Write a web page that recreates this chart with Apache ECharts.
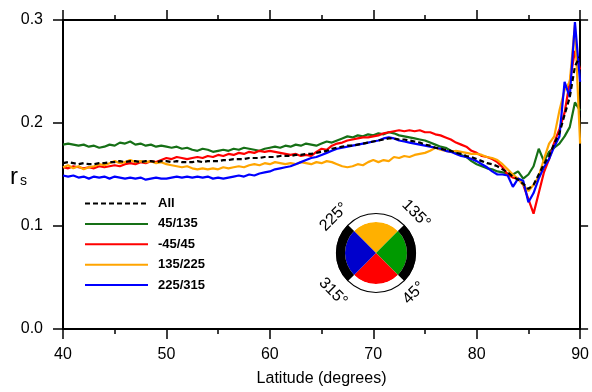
<!DOCTYPE html>
<html>
<head>
<meta charset="utf-8">
<script src="https://cdn.jsdelivr.net/npm/echarts@6/dist/echarts.min.js"></script>
<style>
  html, body { margin: 0; padding: 0; background: #fff; }
  #chart { width: 592px; height: 392px; }
</style>
</head>
<body>
<div id="chart"></div>
<script>
// latitude (degrees), 0.5 deg steps
const lats = [
  40, 40.5, 41, 41.5, 42, 42.5, 43, 43.5, 44, 44.5, 45, 45.5, 46, 46.5, 47, 47.5, 48, 48.5, 49, 49.5, 50,
  50.5, 51, 51.5, 52, 52.5, 53, 53.5, 54, 54.5, 55, 55.5, 56, 56.5, 57, 57.5, 58, 58.5, 59, 59.5, 60,
  60.5, 61, 61.5, 62, 62.5, 63, 63.5, 64, 64.5, 65, 65.5, 66, 66.5, 67, 67.5, 68, 68.5, 69, 69.5, 70,
  70.5, 71, 71.5, 72, 72.5, 73, 73.5, 74, 74.5, 75, 75.5, 76, 76.5, 77, 77.5, 78, 78.5, 79, 79.5, 80,
  80.5, 81, 81.5, 82, 82.5, 83, 83.5, 84, 84.5, 85, 85.5, 86, 86.5, 87, 87.5, 88, 88.5, 89, 89.5, 90
]

// r_s, all directions
const rsAll = [
  0.161, 0.162, 0.161, 0.160, 0.161, 0.160, 0.160, 0.161, 0.161, 0.162, 0.162, 0.163, 0.162, 0.163, 0.163, 0.162, 0.163, 0.163, 0.162, 0.163, 0.163,
  0.162, 0.163, 0.162, 0.162, 0.162, 0.163, 0.162, 0.163, 0.163, 0.163, 0.164, 0.164, 0.165, 0.165, 0.165, 0.166, 0.166, 0.166, 0.167, 0.167,
  0.167, 0.168, 0.168, 0.168, 0.169, 0.169, 0.170, 0.170, 0.171, 0.172, 0.173, 0.175, 0.176, 0.177, 0.178, 0.178, 0.179, 0.180, 0.181, 0.182,
  0.183, 0.184, 0.185, 0.185, 0.184, 0.184, 0.183, 0.182, 0.181, 0.179, 0.178, 0.176, 0.175, 0.174, 0.173, 0.171, 0.170, 0.168, 0.167, 0.165,
  0.163, 0.161, 0.160, 0.158, 0.155, 0.152, 0.148, 0.145, 0.141, 0.136, 0.140, 0.150, 0.160, 0.168, 0.180, 0.190, 0.208, 0.225, 0.255, 0.265
]
const rs45_135 = [
  0.179, 0.180, 0.179, 0.178, 0.179, 0.177, 0.178, 0.176, 0.177, 0.179, 0.178, 0.181, 0.180, 0.182, 0.179, 0.180, 0.178, 0.179, 0.177, 0.178, 0.177,
  0.176, 0.177, 0.175, 0.176, 0.174, 0.173, 0.175, 0.174, 0.172, 0.173, 0.174, 0.173, 0.175, 0.174, 0.176, 0.175, 0.174, 0.173, 0.175, 0.176,
  0.177, 0.176, 0.178, 0.177, 0.179, 0.178, 0.180, 0.179, 0.178, 0.180, 0.182, 0.181, 0.183, 0.185, 0.187, 0.186, 0.188, 0.187, 0.189, 0.188,
  0.190, 0.189, 0.191, 0.190, 0.188, 0.187, 0.186, 0.185, 0.184, 0.183, 0.181, 0.179, 0.177, 0.176, 0.173, 0.171, 0.169, 0.167, 0.163, 0.160,
  0.158, 0.156, 0.155, 0.153, 0.152, 0.151, 0.150, 0.153, 0.146, 0.150, 0.158, 0.175, 0.163, 0.172, 0.176, 0.180, 0.187, 0.196, 0.220, 0.212
]
const rsM45_45 = [
  0.157, 0.156, 0.158, 0.157, 0.156, 0.157, 0.156, 0.158, 0.157, 0.158, 0.159, 0.158, 0.160, 0.161, 0.160, 0.162, 0.161, 0.163, 0.162, 0.164, 0.166,
  0.165, 0.167, 0.166, 0.165, 0.166, 0.167, 0.166, 0.168, 0.167, 0.169, 0.168, 0.170, 0.169, 0.171, 0.170, 0.172, 0.171, 0.173, 0.172, 0.173,
  0.172, 0.171, 0.170, 0.169, 0.170, 0.168, 0.169, 0.168, 0.172, 0.175, 0.174, 0.178, 0.180, 0.181, 0.183, 0.184, 0.185, 0.186, 0.186, 0.187,
  0.188, 0.190, 0.191, 0.192, 0.193, 0.192, 0.193, 0.192, 0.193, 0.191, 0.191, 0.189, 0.188, 0.186, 0.184, 0.181, 0.179, 0.177, 0.173, 0.171,
  0.168, 0.167, 0.165, 0.162, 0.157, 0.150, 0.147, 0.146, 0.140, 0.126, 0.112, 0.132, 0.152, 0.165, 0.181, 0.194, 0.210, 0.240, 0.270, 0.252
]
const rs135_225 = [
  0.157, 0.159, 0.156, 0.158, 0.155, 0.157, 0.158, 0.160, 0.159, 0.161, 0.163, 0.161, 0.162, 0.164, 0.162, 0.163, 0.162, 0.163, 0.161, 0.162, 0.160,
  0.159, 0.158, 0.157, 0.158, 0.156, 0.155, 0.156, 0.155, 0.156, 0.155, 0.157, 0.156, 0.157, 0.158, 0.157, 0.159, 0.160, 0.159, 0.161, 0.160,
  0.162, 0.161, 0.160, 0.161, 0.160, 0.162, 0.161, 0.160, 0.162, 0.161, 0.163, 0.162, 0.160, 0.158, 0.157, 0.158, 0.160, 0.159, 0.162, 0.164,
  0.162, 0.164, 0.163, 0.167, 0.166, 0.168, 0.167, 0.169, 0.170, 0.171, 0.173, 0.176, 0.174, 0.173, 0.172, 0.173, 0.172, 0.171, 0.170, 0.170,
  0.169, 0.167, 0.166, 0.164, 0.160, 0.155, 0.150, 0.146, 0.140, 0.134, 0.140, 0.148, 0.165, 0.180, 0.187, 0.212, 0.232, 0.240, 0.295, 0.180
]
const rs225_315 = [
  0.149, 0.148, 0.149, 0.147, 0.148, 0.146, 0.148, 0.147, 0.148, 0.146, 0.148, 0.147, 0.146, 0.147, 0.146, 0.147, 0.145, 0.146, 0.147, 0.146, 0.146,
  0.147, 0.148, 0.147, 0.148, 0.147, 0.148, 0.147, 0.148, 0.146, 0.147, 0.146, 0.147, 0.148, 0.149, 0.148, 0.150, 0.149, 0.151, 0.152, 0.153,
  0.155, 0.156, 0.157, 0.158, 0.160, 0.162, 0.164, 0.166, 0.167, 0.169, 0.171, 0.173, 0.175, 0.176, 0.177, 0.178, 0.179, 0.180, 0.181, 0.182,
  0.183, 0.185, 0.186, 0.185, 0.183, 0.182, 0.181, 0.180, 0.179, 0.178, 0.177, 0.176, 0.175, 0.173, 0.172, 0.170, 0.168, 0.167, 0.165, 0.163,
  0.160, 0.157, 0.153, 0.150, 0.150, 0.149, 0.138, 0.146, 0.144, 0.123, 0.132, 0.146, 0.157, 0.165, 0.177, 0.187, 0.240, 0.225, 0.298, 0.240
]

const legendNames = ['All', '45/135', '-45/45', '135/225', '225/315']
const quadrantColors = ['#ffb000', '#009a00', '#ff0000', '#0000cc'] // top, right, bottom, left
const ringColors = ['#ffffff', '#000000', '#ffffff', '#000000']
const compassLabels = ['225°', '135°', '315°', '45°']

const font = 'Liberation Sans, Arial, Helvetica, sans-serif'
const inset = { cx: 376, cy: 253, r: 31, R: 40 }

const chart = echarts.init(document.getElementById('chart'))

function lineSeries(name, vals, color, dashed, z) {
  return {
    name: name,
    type: 'line',
    data: lats.map((x, i) => [x, vals[i]]),
    symbol: 'none',
    z: z,
    lineStyle: { color: color, width: 2.2, type: dashed ? [5, 3] : 'solid' },
    itemStyle: { color: color },
    silent: true
  }
}

const axisLine = { show: true, onZero: false, lineStyle: { color: '#000', width: 2 } }
const tick = { show: true, length: 10, lineStyle: { color: '#000', width: 1.5 } }
const minor = { show: true, splitNumber: 2, length: 5, lineStyle: { color: '#000', width: 1.5 } }

chart.setOption({
  animation: false,
  backgroundColor: '#fff',
  grid: { left: 63, right: 9, top: 20, bottom: 61 },
  legend: {
    data: legendNames,
    orient: 'vertical',
    left: 84,
    top: 197,
    padding: 0,
    itemWidth: 63,
    itemHeight: 14,
    itemGap: 7.4,
    itemStyle: { opacity: 0 },
    textStyle: { fontSize: 13, fontWeight: 'bold', color: '#000', fontFamily: font, padding: [0, 0, 0, 5] },
    selectedMode: false
  },
  xAxis: [{
    type: 'value', min: 40, max: 90, interval: 10, position: 'bottom',
    axisLine: axisLine, axisTick: tick, minorTick: minor,
    splitLine: { show: false }, minorSplitLine: { show: false },
    axisLabel: { color: '#000', fontSize: 16, margin: 18, fontFamily: font },
    name: 'Latitude (degrees)', nameLocation: 'middle', nameGap: 42,
    nameTextStyle: { color: '#000', fontSize: 16, fontFamily: font }
  }, {
    type: 'value', min: 40, max: 90, interval: 10, position: 'top',
    axisLine: axisLine, axisTick: tick, minorTick: minor,
    splitLine: { show: false }, minorSplitLine: { show: false },
    axisLabel: { show: false }
  }],
  yAxis: [{
    type: 'value', min: 0, max: 0.3, interval: 0.1, position: 'left',
    axisLine: axisLine, axisTick: tick,
    splitLine: { show: false },
    axisLabel: { color: '#000', fontSize: 16, margin: 20, fontFamily: font, formatter: v => v.toFixed(1) }
  }, {
    type: 'value', min: 0, max: 0.3, interval: 0.1, position: 'right',
    axisLine: axisLine, axisTick: { show: true, length: 8, lineStyle: { color: '#000', width: 1.5 } },
    splitLine: { show: false },
    axisLabel: { show: false }
  }],
  series: [
    lineSeries('45/135', rs45_135, '#167016', false, 3),
    lineSeries('-45/45', rsM45_45, '#ff0000', false, 4),
    lineSeries('135/225', rs135_225, '#ffa500', false, 5),
    lineSeries('225/315', rs225_315, '#0000ff', false, 6),
    lineSeries('All', rsAll, '#000000', true, 7),
    {
      type: 'pie', center: [inset.cx, inset.cy], radius: [0, inset.r],
      startAngle: 135, clockwise: true, silent: true, z: 8,
      label: { show: false }, labelLine: { show: false },
      itemStyle: { borderWidth: 0 },
      data: quadrantColors.map((c, i) => ({ value: 1, name: 'q' + i, itemStyle: { color: c } }))
    },
    {
      type: 'pie', center: [inset.cx, inset.cy], radius: [inset.r, inset.R],
      startAngle: 135, clockwise: true, silent: true, z: 8,
      label: { show: false }, labelLine: { show: false },
      itemStyle: { borderWidth: 0 },
      data: ringColors.map((c, i) => ({ value: 1, name: 'r' + i, itemStyle: { color: c } }))
    }
  ],
  graphic: [
    {
      type: 'circle', z: 100, silent: true,
      shape: { cx: inset.cx, cy: inset.cy, r: inset.R - 0.5 },
      style: { fill: 'none', stroke: '#000', lineWidth: 1.2 }
    },
    { type: 'text', x: inset.cx - 42, y: inset.cy - 36, rotation: Math.PI / 4, z: 100,
      style: { text: compassLabels[0], fontSize: 16, fontFamily: font, fill: '#000', align: 'center', verticalAlign: 'middle' } },
    { type: 'text', x: inset.cx + 40, y: inset.cy - 39, rotation: -Math.PI / 4, z: 100,
      style: { text: compassLabels[1], fontSize: 16, fontFamily: font, fill: '#000', align: 'center', verticalAlign: 'middle' } },
    { type: 'text', x: inset.cx - 43, y: inset.cy + 39, rotation: -Math.PI / 4, z: 100,
      style: { text: compassLabels[2], fontSize: 16, fontFamily: font, fill: '#000', align: 'center', verticalAlign: 'middle' } },
    { type: 'text', x: inset.cx + 38, y: inset.cy + 40, rotation: Math.PI / 4, z: 100,
      style: { text: compassLabels[3], fontSize: 16, fontFamily: font, fill: '#000', align: 'center', verticalAlign: 'middle' } },
    { type: 'text', x: 10, y: 165, z: 100,
      style: { text: 'r', fontSize: 24, fontFamily: font, fill: '#000' } },
    { type: 'text', x: 20, y: 174, z: 100,
      style: { text: 's', fontSize: 14, fontFamily: font, fill: '#000' } }
  ]
})
</script>
</body>
</html>
